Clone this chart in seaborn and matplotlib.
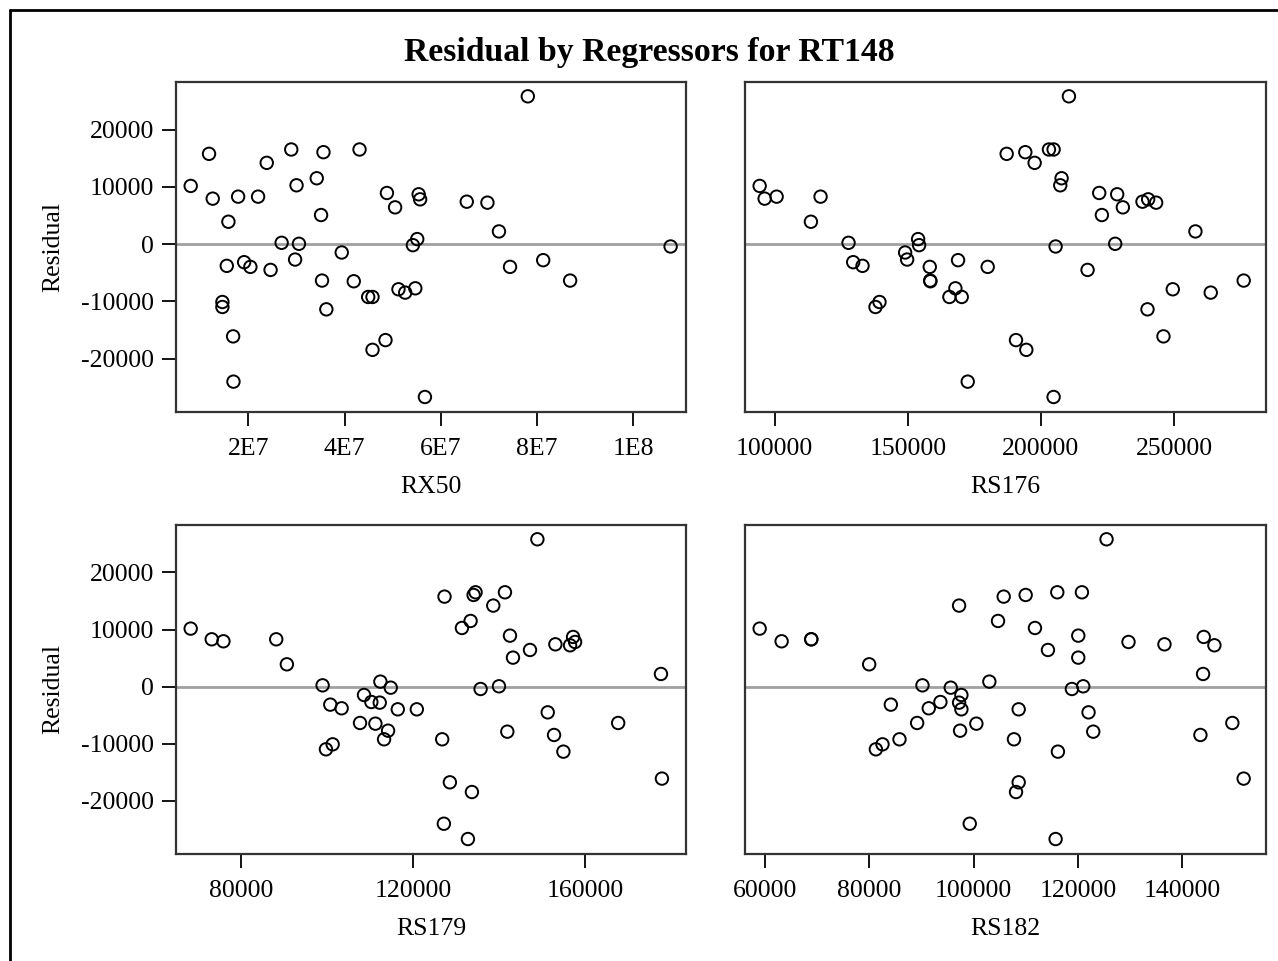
import numpy as np
import pandas as pd
import matplotlib
matplotlib.use("Agg")
import matplotlib.pyplot as plt
import seaborn as sns
from matplotlib.lines import Line2D
from matplotlib.ticker import FixedLocator, FixedFormatter

# ---- data (one entry per observation) ----
residual = [10160, 15760, 7940, 3910, -3790, -10100, -10970, -16100, -24000, 8290,
            -3150, -3970, 8290, 14190, -4500, 230, 16520, 10270, -2690, 60,
            11500, 5080, 16050, -6360, -11380, -1460, 16520, -6480, -9220, -9220,
            -18450, -16750, 8930, 6420, -7880, -8460, -7710, -180, 880, 8700,
            7820, -26680, 7410, 7240, 2220, -3970, 25800, -2800, -6360, -410]
rx50 = [0.799e7, 1.18e7, 1.257e7, 1.583e7, 1.549e7, 1.458e7, 1.458e7, 1.681e7, 1.688e7, 1.785e7,
        1.91e7, 2.04e7, 2.20e7, 2.38e7, 2.46e7, 2.69e7, 2.89e7, 3.0e7, 2.97e7, 3.05e7,
        3.42e7, 3.51e7, 3.56e7, 3.53e7, 3.62e7, 3.94e7, 4.31e7, 4.19e7, 4.49e7, 4.58e7,
        4.58e7, 4.85e7, 4.88e7, 5.05e7, 5.12e7, 5.26e7, 5.47e7, 5.42e7, 5.51e7, 5.54e7,
        5.57e7, 5.67e7, 6.54e7, 6.97e7, 7.21e7, 7.44e7, 7.81e7, 8.13e7, 8.69e7, 10.78e7]
rs176 = [94375, 187125, 96250, 113625, 133000, 139375, 137875, 246000, 172500, 100750,
         129500, 158250, 117250, 197625, 217500, 127750, 203000, 207250, 149750, 227875,
         207750, 222875, 194125, 158400, 240000, 149000, 204750, 158500, 165625, 170250,
         194500, 190625, 221875, 230750, 249500, 263750, 167875, 154250, 153875, 228625,
         240250, 204750, 238125, 243250, 258000, 180000, 210500, 168875, 276125, 205500]
rs179 = [68180, 127270, 75800, 90570, 103320, 101230, 99670, 177890, 127120, 73080,
         100680, 116390, 88090, 138620, 151300, 98890, 134500, 131320, 110240, 139950,
         133340, 143210, 134040, 107600, 154950, 108530, 141340, 111180, 113200, 126730,
         133650, 128520, 142510, 147170, 141890, 152770, 114130, 114750, 112340, 157200,
         157670, 132720, 153080, 156500, 177660, 120820, 148890, 112190, 167700, 135670]
rs182 = [58980, 105750, 63190, 79970, 91390, 82520, 81250, 151740, 99240, 68870,
         84120, 97640, 68870, 97200, 122010, 90180, 116020, 111740, 93620, 120990,
         104660, 120040, 109960, 89160, 116140, 97640, 120740, 100510, 85780, 107720,
         108110, 108620, 120040, 114230, 122910, 143450, 97390, 95600, 103000, 144090,
         129670, 115700, 136560, 146130, 143960, 108620, 125460, 97200, 149570, 118820]

regressors = ["RX50", "RS176", "RS179", "RS182"]
x_ticks = {
    "RX50": [2e7, 4e7, 6e7, 8e7, 1e8],
    "RS176": [100000, 150000, 200000, 250000],
    "RS179": [80000, 120000, 160000],
    "RS182": [60000, 80000, 100000, 120000, 140000],
}
x_ticklabels = {
    "RX50": ["2E7", "4E7", "6E7", "8E7", "1E8"],
    "RS176": ["100000", "150000", "200000", "250000"],
    "RS179": ["80000", "120000", "160000"],
    "RS182": ["60000", "80000", "100000", "120000", "140000"],
}
y_ticks = [-20000, -10000, 0, 10000, 20000]
y_ticklabels = ["-20000", "-10000", "0", "10000", "20000"]
title = "Residual by Regressors for RT148"

df = pd.DataFrame({"Residual": residual, "RX50": rx50, "RS176": rs176,
                   "RS179": rs179, "RS182": rs182})

# ---- style ----
sns.set_theme(style="white")
plt.rcParams["font.family"] = ["Liberation Serif", "DejaVu Serif"]
plt.rcParams["axes.unicode_minus"] = False

W, H = 1278, 961
fig = plt.figure(figsize=(W / 100, H / 100), dpi=100)
fig.patch.set_facecolor("white")


def add_ax(l, t, r, b):
    return fig.add_axes([l / W, 1 - b / H, (r - l) / W, (b - t) / H])


boxes = [(176, 82, 686, 412), (745, 82, 1266, 412),
         (176, 525, 686, 854), (745, 525, 1266, 854)]
xlims = {"RX50": (0.493e7, 11.1e7), "RS176": (88875, 284500),
         "RS179": (64760, 183490), "RS182": (56170, 156020)}
ylim = (-29300, 28300)

fs = 18.5
for i, (reg, box) in enumerate(zip(regressors, boxes)):
    ax = add_ax(*box)
    ax.axhline(0, color="#a0a0a0", lw=2, zorder=1)
    sns.scatterplot(data=df, x=reg, y="Residual", ax=ax, marker="o", s=80,
                    facecolors="none", edgecolor="black", linewidth=1.4, zorder=3)
    ax.set_xlim(*xlims[reg])
    ax.set_ylim(*ylim)
    ax.xaxis.set_major_locator(FixedLocator(x_ticks[reg]))
    ax.xaxis.set_major_formatter(FixedFormatter(x_ticklabels[reg]))
    ax.yaxis.set_major_locator(FixedLocator(y_ticks))
    ax.yaxis.set_major_formatter(FixedFormatter(y_ticklabels))
    ax.tick_params(axis="both", direction="out", length=10, width=1.3,
                   color="black", labelsize=fs, pad=6, labelcolor="black")
    ax.tick_params(axis="x", pad=9)
    ax.tick_params(top=False, right=False, bottom=True)
    ax.set_xlabel(reg, fontsize=fs, labelpad=11, color="black")
    if i % 2 == 0:
        ax.set_ylabel("Residual", fontsize=fs, labelpad=12, color="black")
        ax.tick_params(axis="y", left=True)
    else:
        ax.set_ylabel("")
        ax.tick_params(axis="y", left=False, labelleft=False)
    for sp in ax.spines.values():
        sp.set_color("#333333")
        sp.set_linewidth(1.6)
        sp.set_visible(True)
    ax.grid(False)

fig.text(649 / W, 1 - 53 / H, title, ha="center", va="center",
         fontsize=24.3, fontweight="bold", color="black")

# outer border (left and top edges visible)
fig.add_artist(Line2D([10 / W, 10 / W], [0, 1 - 10 / H], transform=fig.transFigure,
                      color="black", lw=2))
fig.add_artist(Line2D([10 / W, 1], [1 - 10 / H, 1 - 10 / H], transform=fig.transFigure,
                      color="black", lw=2))

fig.savefig("out.png", dpi=100, facecolor="white")
